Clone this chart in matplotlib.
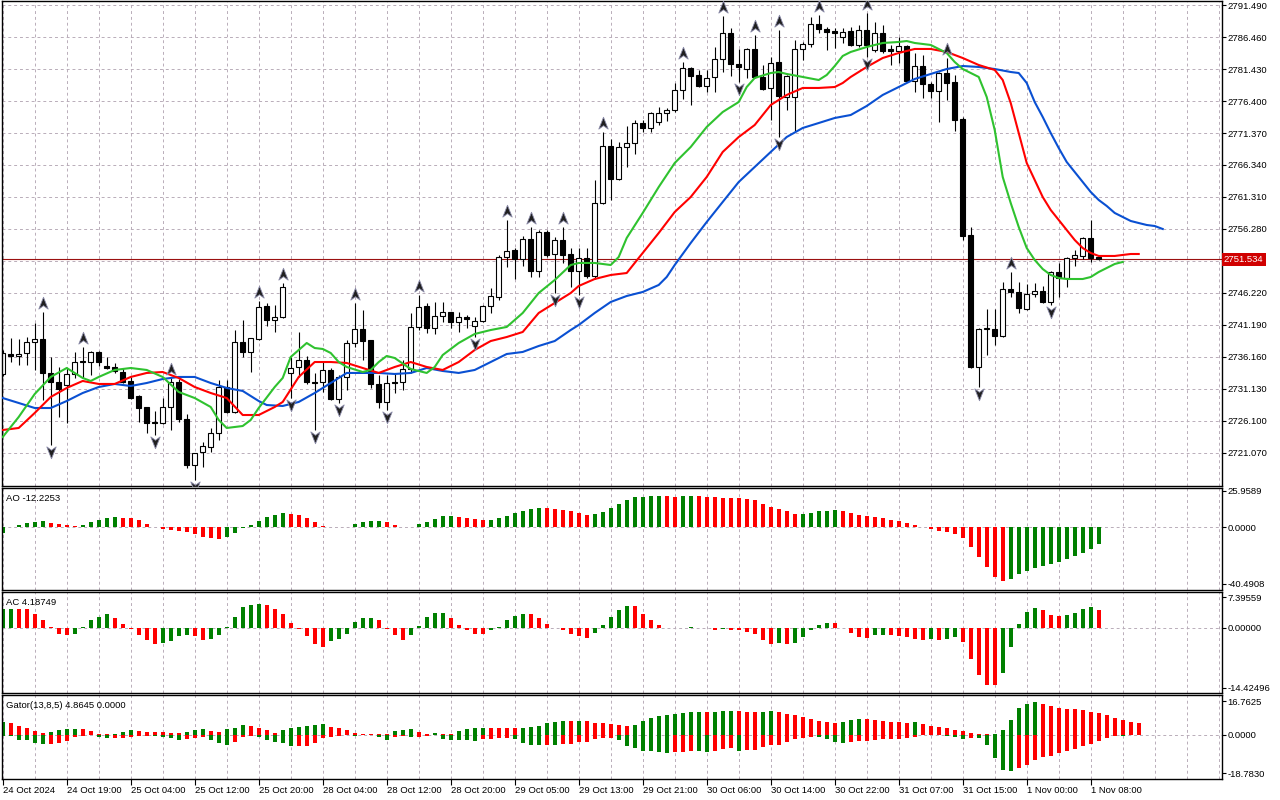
import matplotlib
matplotlib.use("Agg")
import matplotlib.pyplot as plt
import matplotlib.transforms as mtransforms
from matplotlib.path import Path

plt.rcParams['font.family'] = ['Liberation Sans', 'DejaVu Sans']

# ---- XAUUSD H1 candles, 24 Oct 2024 .. 1 Nov 2024 ----
open_ = [2733.5, 2736.6, 2736.3, 2736.8, 2738.5, 2739.0, 2733.6, 2732.2, 2731.8, 2733.5,
         2735.5, 2735.4, 2736.9, 2734.7, 2734.6, 2733.8, 2732.4, 2730.0, 2728.3, 2725.9,
         2725.8, 2728.3, 2732.2, 2726.4, 2719.2, 2721.2, 2722.0, 2724.2, 2731.4, 2727.5,
         2738.5, 2736.9, 2739.0, 2744.2, 2742.0, 2742.4, 2733.6, 2734.6, 2735.7, 2732.2,
         2732.2, 2734.1, 2729.6, 2733.0, 2738.4, 2740.6, 2738.8, 2731.9, 2729.1, 2732.2,
         2732.2, 2734.3, 2740.9, 2744.2, 2740.7, 2742.6, 2743.2, 2741.7, 2742.4, 2741.0,
         2741.8, 2744.2, 2745.6, 2751.9, 2753.0, 2751.6, 2754.7, 2749.7, 2755.8, 2752.4,
         2754.6, 2752.4, 2749.7, 2751.7, 2748.9, 2760.4, 2769.3, 2764.1, 2769.2, 2769.8,
         2772.9, 2772.2, 2773.1, 2774.5, 2775.0, 2778.1, 2781.6, 2780.5, 2778.8, 2780.2,
         2783.0, 2787.1, 2782.2, 2781.4, 2784.6, 2780.2, 2778.4, 2782.5, 2777.0, 2777.0,
         2784.6, 2785.4, 2788.5, 2787.7, 2787.4, 2786.5, 2787.4, 2785.2, 2787.6, 2784.4,
         2787.1, 2784.6, 2784.3, 2785.0, 2779.5, 2781.9, 2779.1, 2778.0, 2780.8, 2779.4,
         2773.6, 2755.3, 2734.6, 2740.6, 2740.6, 2739.5, 2746.9, 2746.4, 2743.7, 2746.1,
         2746.5, 2744.8, 2749.5, 2748.6, 2751.7, 2752.0, 2754.9, 2751.9]
high = [2737.3, 2739.1, 2739.0, 2739.3, 2741.5, 2743.2, 2736.2, 2734.6, 2734.4, 2736.9,
        2737.7, 2737.1, 2737.1, 2736.2, 2735.2, 2734.4, 2733.0, 2730.2, 2728.3, 2727.7,
        2729.7, 2732.9, 2732.7, 2727.2, 2721.1, 2722.8, 2725.0, 2732.5, 2732.5, 2740.4,
        2742.0, 2739.1, 2745.0, 2744.6, 2744.3, 2747.8, 2736.2, 2740.1, 2736.3, 2733.6,
        2735.4, 2734.4, 2733.3, 2738.8, 2744.6, 2743.6, 2738.8, 2733.3, 2733.3, 2733.6,
        2735.7, 2743.1, 2745.9, 2744.6, 2744.8, 2744.8, 2743.2, 2743.2, 2742.8, 2742.4,
        2744.3, 2747.0, 2752.2, 2757.7, 2753.3, 2755.2, 2756.6, 2756.1, 2756.1, 2755.0,
        2756.6, 2753.3, 2753.3, 2753.3, 2764.0, 2771.5, 2770.4, 2770.0, 2772.5, 2773.4,
        2773.4, 2774.7, 2775.5, 2775.3, 2779.2, 2782.5, 2781.7, 2781.3, 2781.3, 2784.9,
        2789.8, 2787.9, 2784.6, 2784.7, 2786.8, 2782.1, 2783.3, 2787.6, 2780.5, 2786.0,
        2785.7, 2789.6, 2789.9, 2788.0, 2787.9, 2787.9, 2788.0, 2788.4, 2790.2, 2788.8,
        2788.4, 2785.2, 2786.5, 2785.2, 2783.9, 2783.6, 2779.4, 2781.0, 2783.2, 2780.5,
        2773.9, 2756.6, 2740.7, 2743.7, 2743.7, 2748.0, 2749.5, 2748.0, 2747.6, 2747.8,
        2747.3, 2749.7, 2751.0, 2751.9, 2753.0, 2755.0, 2757.7, 2752.0]
low = [2733.2, 2735.4, 2734.9, 2734.9, 2734.1, 2729.4, 2722.3, 2726.7, 2725.8, 2732.9,
       2732.9, 2733.3, 2734.7, 2734.3, 2733.6, 2732.1, 2729.6, 2725.9, 2724.2, 2723.9,
       2725.6, 2724.7, 2725.9, 2718.7, 2716.8, 2718.9, 2721.2, 2723.1, 2727.4, 2727.4,
       2736.2, 2733.8, 2738.8, 2741.0, 2740.1, 2742.3, 2729.7, 2733.0, 2731.9, 2724.7,
       2730.7, 2729.4, 2728.9, 2731.0, 2737.7, 2735.7, 2731.3, 2728.1, 2727.8, 2730.5,
       2731.0, 2733.6, 2740.4, 2739.9, 2739.8, 2741.7, 2740.7, 2740.1, 2740.7, 2739.3,
       2741.7, 2743.1, 2745.1, 2750.3, 2748.4, 2750.5, 2748.7, 2748.7, 2751.9, 2746.2,
       2750.9, 2747.2, 2745.9, 2748.6, 2748.4, 2760.2, 2760.8, 2764.0, 2766.0, 2768.1,
       2771.5, 2771.5, 2772.6, 2773.3, 2774.7, 2776.7, 2775.8, 2778.6, 2777.8, 2777.8,
       2781.0, 2780.3, 2779.4, 2780.0, 2780.0, 2778.1, 2773.4, 2770.7, 2775.0, 2771.7,
       2782.9, 2784.9, 2787.1, 2784.4, 2784.7, 2785.5, 2785.0, 2784.9, 2783.3, 2784.1,
       2783.9, 2782.1, 2782.4, 2779.4, 2777.8, 2776.9, 2776.9, 2773.1, 2776.6, 2771.7,
       2754.6, 2734.4, 2731.4, 2736.5, 2738.0, 2739.3, 2745.6, 2743.1, 2743.5, 2745.6,
       2744.6, 2744.4, 2745.6, 2747.2, 2750.5, 2751.6, 2751.1, 2751.4]
close = [2736.8, 2736.3, 2736.6, 2738.5, 2739.0, 2733.6, 2732.2, 2731.1, 2733.5, 2735.4,
         2735.4, 2736.9, 2735.4, 2734.4, 2734.0, 2732.2, 2729.7, 2728.1, 2725.8, 2725.8,
         2728.3, 2732.2, 2726.4, 2719.2, 2721.1, 2722.2, 2724.2, 2731.4, 2727.5, 2738.5,
         2736.9, 2739.1, 2744.0, 2742.0, 2742.4, 2747.2, 2734.4, 2735.7, 2732.2, 2732.1,
         2734.1, 2729.6, 2733.0, 2738.4, 2740.6, 2738.7, 2731.9, 2729.1, 2732.1, 2732.1,
         2734.3, 2740.9, 2744.0, 2740.7, 2742.6, 2743.2, 2741.7, 2742.4, 2742.1, 2741.8,
         2744.2, 2745.7, 2751.9, 2752.8, 2751.6, 2754.7, 2749.7, 2755.8, 2752.2, 2754.6,
         2752.2, 2749.7, 2751.7, 2748.9, 2760.4, 2769.3, 2764.1, 2769.2, 2769.8, 2772.9,
         2772.2, 2774.5, 2774.5, 2775.0, 2778.1, 2781.6, 2780.3, 2778.8, 2780.0, 2783.0,
         2787.1, 2782.2, 2781.7, 2784.6, 2780.2, 2778.3, 2782.4, 2777.2, 2780.3, 2784.6,
         2785.4, 2788.5, 2787.7, 2787.2, 2787.1, 2787.2, 2785.2, 2787.6, 2785.2, 2787.1,
         2784.3, 2784.3, 2785.0, 2779.5, 2781.9, 2779.1, 2778.0, 2780.8, 2779.2, 2773.4,
         2755.2, 2734.6, 2740.6, 2740.7, 2739.5, 2746.9, 2746.4, 2743.9, 2746.1, 2746.5,
         2744.8, 2749.5, 2748.6, 2751.7, 2752.2, 2754.9, 2751.7, 2751.534]

# Williams fractals (bar indices)
fractal_up = [5, 10, 21, 32, 35, 44, 52, 63, 66, 70, 75, 85, 90, 94, 97, 102, 108, 118, 126]
fractal_dn = [6, 19, 24, 36, 39, 42, 48, 59, 69, 72, 92, 97, 108, 122, 131]

# Alligator lines (bar index, value), already shifted forward
jaw_x = [0, 2, 4, 6, 8, 10, 12, 14, 16, 18, 20, 22, 24, 26, 28, 30, 32, 33, 35, 37, 39, 41,
         43, 45, 47, 49, 51, 53, 55, 57, 59, 61, 63, 65, 67, 69, 71, 72, 74, 76, 78, 80, 82,
         83, 84, 86, 88, 90, 92, 94, 96, 98, 100, 102, 104, 106, 108, 110, 112, 114, 116, 118,
         120, 122, 124, 126, 127, 128, 129, 130, 131, 132, 133, 134, 135, 136, 137, 138, 139,
         140, 141, 142, 143, 144, 145]
jaw_y = [2729.71, 2728.93, 2728.14, 2728.14, 2729.24, 2730.50, 2731.44, 2731.92, 2731.60,
         2732.07, 2732.70, 2733.02, 2733.02, 2732.07, 2731.29, 2730.82, 2729.24, 2728.61,
         2728.46, 2729.09, 2730.50, 2732.07, 2733.65, 2733.65, 2733.65, 2733.49, 2733.65,
         2734.43, 2733.96, 2733.65, 2734.12, 2735.37, 2736.63, 2736.95, 2737.89, 2738.67,
         2740.40, 2741.19, 2743.08, 2744.81, 2745.75, 2746.38, 2747.48, 2748.74, 2750.62,
         2754.08, 2757.38, 2760.53, 2763.67, 2766.03, 2768.39, 2770.74, 2772.16, 2772.94,
         2773.73, 2774.20, 2775.62, 2777.35, 2778.60, 2779.86, 2780.65, 2781.43, 2781.90,
         2781.75, 2781.43, 2780.96, 2780.80, 2779.23, 2776.24, 2773.89, 2771.37, 2769.01,
         2766.81, 2765.24, 2763.67, 2762.10, 2760.84, 2759.90, 2758.80, 2758.17, 2757.54,
         2757.22, 2756.91, 2756.75, 2756.28]
teeth_x = [0, 2, 4, 6, 8, 10, 12, 14, 16, 18, 20, 22, 24, 26, 28, 30, 32, 34, 35, 37, 39, 41,
           43, 45, 47, 49, 51, 53, 55, 57, 59, 61, 63, 65, 67, 69, 71, 72, 74, 76, 78, 79, 80,
           82, 84, 86, 88, 90, 92, 94, 96, 98, 100, 102, 104, 105, 106, 108, 110, 112, 114,
           116, 118, 120, 122, 124, 125, 126, 127, 128, 129, 130, 131, 132, 133, 134, 135,
           136, 137, 138, 139, 140, 141, 142]
teeth_y = [2724.68, 2725.00, 2727.36, 2729.87, 2731.29, 2732.39, 2731.92, 2731.92, 2733.02,
           2733.65, 2733.80, 2732.86, 2731.44, 2730.50, 2729.71, 2727.04, 2727.04, 2728.30,
           2729.09, 2733.02, 2735.37, 2735.37, 2735.22, 2734.43, 2733.65, 2734.59, 2735.37,
           2734.59, 2734.12, 2735.37, 2737.26, 2738.67, 2739.30, 2740.09, 2743.08, 2744.65,
           2746.22, 2747.32, 2748.42, 2749.05, 2749.36, 2750.94, 2752.51, 2755.65, 2758.95,
           2761.31, 2764.46, 2768.39, 2770.74, 2772.63, 2775.77, 2777.35, 2778.45, 2778.45,
           2778.60, 2779.23, 2780.18, 2781.75, 2783.16, 2783.95, 2784.58, 2784.58, 2784.11,
           2783.16, 2782.06, 2781.28, 2779.70, 2776.09, 2771.37, 2766.66, 2763.98, 2761.31,
           2759.27, 2757.70, 2756.12, 2754.55, 2753.29, 2752.51, 2752.04, 2752.04, 2752.04,
           2752.20, 2752.35, 2752.35]
lips_x = [0, 2, 4, 6, 8, 10, 11, 12, 14, 16, 18, 20, 22, 24, 26, 27, 28, 30, 31, 32, 34, 35,
          36, 38, 39, 40, 41, 42, 43, 45, 46, 47, 48, 49, 51, 53, 54, 55, 57, 59, 61, 63, 65,
          67, 69, 71, 72, 74, 76, 77, 78, 80, 82, 84, 86, 88, 90, 92, 93, 94, 96, 97, 98, 100,
          102, 103, 104, 105, 106, 108, 110, 112, 113, 114, 116, 118, 119, 120, 122, 123, 124,
          125, 126, 127, 128, 129, 130, 131, 132, 133, 134, 135, 136, 137, 138, 139, 140]
lips_y = [2723.58, 2726.73, 2730.34, 2733.02, 2734.43, 2732.86, 2732.39, 2733.02, 2734.12,
          2734.43, 2734.12, 2733.02, 2730.66, 2729.71, 2728.30, 2726.26, 2725.00, 2725.31,
          2726.26, 2728.14, 2731.44, 2732.86, 2736.16, 2738.36, 2737.57, 2737.42, 2736.79,
          2735.37, 2734.59, 2733.80, 2734.12, 2735.37, 2736.32, 2736.00, 2734.27, 2733.65,
          2734.59, 2736.47, 2738.36, 2739.78, 2740.40, 2740.88, 2743.08, 2746.22, 2748.26,
          2750.62, 2750.94, 2750.94, 2750.62, 2751.88, 2754.87, 2758.80, 2762.88, 2766.66,
          2769.17, 2772.32, 2774.67, 2776.24, 2778.60, 2780.02, 2780.80, 2780.96, 2780.65,
          2780.18, 2779.70, 2780.49, 2781.90, 2783.48, 2784.11, 2784.89, 2785.52, 2785.68,
          2785.83, 2785.52, 2785.21, 2783.95, 2782.53, 2781.43, 2780.18, 2777.03, 2771.84,
          2764.46, 2760.37, 2756.60, 2753.29, 2751.41, 2749.99, 2749.05, 2748.58, 2748.42,
          2748.42, 2748.42, 2748.73, 2749.52, 2750.15, 2750.78, 2751.10]

# Awesome Oscillator
ao = [-3.8, 0.3, 1.4, 2.9, 3.6, 4.3, 2.9, 2.1, 1.4, 0.7, 1.4, 3.6, 5.0, 6.4, 7.1, 7.0, 6.4,
      5.0, 2.4, 0.1, -1.2, -1.9, -2.6, -3.6, -4.8, -6.9, -7.6, -8.3, -6.9, -4.0, -0.5, 1.4,
      4.3, 7.1, 8.6, 10.0, 9.3, 8.6, 6.4, 3.6, 0.7, 0.5, 0.2, 0.3, 2.1, 3.6, 4.3, 4.4, 3.6,
      1.4, 0.4, 0.2, 2.1, 4.0, 5.7, 7.9, 8.0, 7.1, 6.4, 5.7, 5.2, 5.3, 6.4, 7.9, 10.2, 11.4,
      13.1, 13.6, 13.5, 12.9, 12.1, 11.4, 10.2, 8.6, 9.5, 10.7, 13.6, 16.7, 19.3, 21.4, 21.5,
      22.1, 22.2, 22.1, 22.0, 22.1, 22.2, 22.1, 22.0, 21.4, 21.3, 21.2, 20.7, 20.0, 19.3,
      16.4, 14.3, 12.9, 11.4, 9.3, 9.5, 10.0, 11.4, 11.5, 12.1, 11.4, 10.0, 8.6, 7.9, 7.1,
      6.4, 5.0, 4.3, 2.9, 1.4, 0.1, -1.2, -2.9, -3.3, -4.8, -7.6, -14.0, -21.2, -28.3,
      -35.4, -38.3, -36.9, -33.3, -31.2, -29.0, -27.6, -26.2, -24.8, -22.6, -20.5, -18.3,
      -15.5, -12.2253]

# Accelerator Oscillator
ac = [4.4, 4.6, 4.5, 4.4, 3.2, 2.0, 0.1, -1.4, -1.6, -1.4, 0.1, 1.8, 2.6, 3.2, 2.4, 1.0,
      -0.2, -1.6, -3.0, -3.8, -3.7, -3.2, -2.0, -1.8, -1.85, -2.8, -2.6, -1.8, 0.1, 2.6, 5.0,
      5.4, 5.8, 5.4, 4.6, 3.3, 1.2, -0.2, -2.0, -3.8, -4.7, -3.2, -2.7, -1.4, 1.4, 2.4, 2.45,
      1.8, -0.2, -1.8, -2.8, -1.8, 0.5, 2.5, 3.6, 3.65, 2.4, 0.7, -0.6, -1.4, -1.5, -0.6,
      0.2, 1.9, 2.9, 3.4, 3.3, 2.4, 1.0, -0.1, -0.6, -1.4, -1.9, -2.4, -1.2, 0.7, 2.6, 4.3,
      5.3, 5.2, 3.4, 1.9, 0.7, -0.05, -0.1, 0.05, 0.1, 0.0, -0.05, -0.4, -0.3, -0.4, -0.6,
      -1.0, -1.4, -2.8, -3.8, -3.6, -3.8, -3.6, -2.1, -0.5, 0.7, 1.2, 1.15, 0.0, -1.2, -2.3,
      -2.35, -1.8, -1.7, -1.8, -1.9, -2.1, -2.6, -2.8, -2.75, -3.0, -2.6, -2.1, -3.5, -7.4,
      -11.2, -13.6, -13.8, -10.9, -4.7, 1.0, 3.8, 4.8, 4.3, 3.1, 2.9, 3.1, 3.6, 4.6, 5.0,
      4.18749]

# Gator oscillator: upper |jaw-teeth|, lower -|teeth-lips|
gator_up = [6.4, 5.9, 4.6, 3.3, 1.8, 1.0, 1.3, 2.3, 2.8, 2.9, 2.8, 1.8, 0.7, 0.6, 0.7, 1.6,
            2.3, 1.8, 1.6, 1.5, 1.3, 1.0, 0.8, 1.6, 2.6, 2.7, 2.1, 1.3, 3.0, 3.6, 4.9, 4.6,
            3.3, 2.3, 1.0, 2.3, 3.3, 4.0, 4.6, 4.9, 5.6, 4.0, 3.5, 2.3, 1.0, 0.7, 0.6, 0.5,
            0.4, 1.8, 2.6, 2.7, 1.6, 0.3, 1.2, 0.7, 0.6, 2.1, 3.1, 3.6, 3.65, 3.6, 3.55, 3.5,
            3.45, 3.6, 3.7, 4.6, 5.9, 6.6, 7.1, 7.05, 7.1, 7.05, 6.1, 6.05, 5.6, 5.1, 4.6, 5.1,
            7.1, 8.6, 9.5, 10.0, 10.5, 11.0, 11.5, 11.55, 11.5, 11.55, 12.0, 12.05, 12.0,
            11.5, 11.45, 11.5, 12.0, 11.5, 10.5, 10.0, 9.1, 8.1, 7.1, 6.6, 6.1, 6.6, 7.6, 8.1,
            8.0, 7.6, 7.1, 6.6, 6.5, 6.1, 6.15, 5.6, 4.6, 4.1, 3.6, 2.6, 2.1, 1.2, 0.7, 0.6,
            0.7, 2.6, 7.6, 13.2, 15.5, 16.5, 15.5, 14.5, 13.5, 13.0, 12.95, 12.5, 11.5, 11.0,
            10.0, 8.6, 7.6, 6.6, 6.1]
gator_dn = [-0.5, -0.6, -2.3, -2.6, -3.8, -4.3, -4.3, -4.0, -3.1, -1.2, -0.3, -0.2, -0.8,
            -1.6, -1.5, -1.3, -1.2, -0.7, -0.6, -0.7, -0.8, -1.6, -2.6, -2.1, -1.5, -1.2,
            -2.3, -4.0, -4.8, -3.3, -1.2, -0.7, -0.8, -2.6, -3.6, -4.0, -5.6, -5.5, -5.4,
            -4.0, -1.6, -1.2, -0.3, -0.1, -0.3, -0.2, -0.1, -1.2, -2.3, -1.2, -0.7, -1.2,
            -1.0, -0.7, -0.1, -2.1, -2.6, -2.65, -2.7, -2.75, -2.1, -2.0, -1.6, -1.55, -2.1,
            -3.8, -5.1, -5.15, -5.1, -5.15, -4.6, -4.5, -3.6, -3.3, -2.1, -1.6, -1.55, -2.6,
            -5.6, -6.3, -7.7, -7.75, -8.2, -8.7, -8.65, -8.2, -7.7, -7.8, -8.2, -8.1, -6.7,
            -6.6, -7.7, -7.6, -7.5, -6.1, -5.1, -5.0, -3.6, -2.1, -1.6, -1.2, -1.25, -2.1,
            -3.6, -4.1, -3.6, -3.1, -3.0, -2.6, -2.1, -2.05, -2.0, -1.6, -1.2, -0.1, -0.05,
            -0.03, -0.7, -1.2, -2.1, -1.6, -1.65, -5.1, -11.5, -17.4, -17.9, -16.5, -15.0,
            -12.5, -11.0, -10.5, -9.1, -8.1, -7.1, -5.6, -4.6, -3.1, -1.6, -0.7, -0.75]

# time axis labels (bar index -> text)
time_idx = [0, 8, 16, 24, 32, 40, 48, 56, 64, 72, 80, 88, 96, 104, 112, 120, 128, 136]
time_lbl = ['24 Oct 2024', '24 Oct 19:00', '25 Oct 04:00', '25 Oct 12:00', '25 Oct 20:00',
            '28 Oct 04:00', '28 Oct 12:00', '28 Oct 20:00', '29 Oct 05:00', '29 Oct 13:00',
            '29 Oct 21:00', '30 Oct 06:00', '30 Oct 14:00', '30 Oct 22:00', '31 Oct 07:00',
            '31 Oct 15:00', '1 Nov 00:00', '1 Nov 08:00']

price_ticks = [2791.49, 2786.46, 2781.43, 2776.40, 2771.37, 2766.34, 2761.31, 2756.28,
               2751.25, 2746.22, 2741.19, 2736.16, 2731.13, 2726.10, 2721.07]
ao_ticks = [25.9589, 0.0, -40.4908]
ac_ticks = [7.39559, 0.0, -14.42496]
gator_ticks = [16.7625, 0.0, -18.7830]

GREEN = '#008000'
RED = '#ff0000'
GRID = '#b9adb9'
FS = 6.8

W, H = 1280, 800
fig = plt.figure(figsize=(W / 100, H / 100), dpi=100)
fig.patch.set_facecolor('white')

def rect(top, bottom):
    return [2 / W, 1 - bottom / H, 1220 / W, (bottom - top) / H]

ax = fig.add_axes(rect(1, 486))
ax_ao = fig.add_axes(rect(488, 590))
ax_ac = fig.add_axes(rect(592, 693))
ax_gt = fig.add_axes(rect(695, 779))

xmin, xmax = -0.0875, 152.41
for a in (ax, ax_ao, ax_ac, ax_gt):
    a.set_xlim(xmin, xmax)
    for s in a.spines.values():
        s.set_color('black')
        s.set_linewidth(1.0)
    a.yaxis.tick_right()
    a.tick_params(axis='y', direction='out', length=3, width=0.8, labelsize=FS, pad=1)
    a.tick_params(axis='x', length=0, labelbottom=False)
    for k in range(0, 39):
        a.axvline(4 * k, color=GRID, lw=0.7, ls=(0, (3, 3)), zorder=0)

n = len(close)
idx = list(range(n))

# ---- main price chart ----
ax.set_ylim(2715.88, 2792.12)
ax.set_yticks(price_ticks)
ax.set_yticklabels(['' if abs(t - 2751.25) < 1e-6 else f'{t:.3f}' for t in price_ticks])
for t in price_ticks:
    ax.axhline(t, color=GRID, lw=0.7, ls=(0, (3, 3)), zorder=0)

ax.vlines(idx, low, high, color='black', lw=0.8, zorder=2)
bull = [c >= o for o, c in zip(open_, close)]
body_lo = [min(o, c) for o, c in zip(open_, close)]
body_h = [max(abs(c - o), 0.08) for o, c in zip(open_, close)]
ax.bar(idx, body_h, bottom=body_lo, width=0.62,
       color=['white' if b else 'black' for b in bull], edgecolor='black', lw=0.8, zorder=2)

ax.plot(jaw_x, jaw_y, color='#0a50d2', lw=1.5, zorder=3)
ax.plot(teeth_x, teeth_y, color='#ff0000', lw=1.5, zorder=3)
ax.plot(lips_x, lips_y, color='#2fc22f', lw=1.5, zorder=3)

up_path = Path([(0, 1), (0.75, -0.9), (0, -0.35), (-0.75, -0.9), (0, 1)],
               [Path.MOVETO, Path.LINETO, Path.LINETO, Path.LINETO, Path.CLOSEPOLY])
dn_path = Path([(0, -1), (0.75, 0.9), (0, 0.35), (-0.75, 0.9), (0, -1)],
               [Path.MOVETO, Path.LINETO, Path.LINETO, Path.LINETO, Path.CLOSEPOLY])
ax.plot(fractal_up, [high[i] + 1.4 for i in fractal_up], ls='none', marker=up_path,
        ms=9, mfc='#202020', mec='#8a8aa8', mew=0.6, zorder=4)
ax.plot(fractal_dn, [low[i] - 1.1 for i in fractal_dn], ls='none', marker=dn_path,
        ms=9, mfc='#202020', mec='#8a8aa8', mew=0.6, zorder=4)

last = close[-1]
ax.axhline(last, color='#9b1010', lw=0.8, zorder=1)
tr = mtransforms.blended_transform_factory(ax.transAxes, ax.transData)
ax.text(1.0016, last, f'{last:.3f}', transform=tr, ha='left', va='center', fontsize=FS,
        color='white', bbox=dict(facecolor='#d00000', edgecolor='none', pad=1.4), clip_on=False)

# ---- AO ----
ao_col = [GREEN if i == 0 or ao[i] > ao[i - 1] else RED for i in range(len(ao))]
ax_ao.bar(range(len(ao)), ao, width=0.5, color=ao_col, zorder=2)
ax_ao.set_ylim(-44.78, 28.10)
ax_ao.set_yticks(ao_ticks)
ax_ao.set_yticklabels(['25.9589', '0.0000', '-40.4908'])
ax_ao.axhline(0, color=GRID, lw=0.7, ls=(0, (3, 3)), zorder=1)
ax_ao.text(0.003, 0.94, 'AO -12.2253', transform=ax_ao.transAxes, fontsize=FS, va='top')

# ---- AC ----
ac_col = [GREEN if i == 0 or ac[i] > ac[i - 1] else RED for i in range(len(ac))]
ax_ac.bar(range(len(ac)), ac, width=0.5, color=ac_col, zorder=2)
ax_ac.set_ylim(-15.624, 8.595)
ax_ac.set_yticks(ac_ticks)
ax_ac.set_yticklabels(['7.39559', '0.00000', '-14.42496'])
ax_ac.axhline(0, color=GRID, lw=0.7, ls=(0, (3, 3)), zorder=1)
ax_ac.text(0.003, 0.94, 'AC 4.18749', transform=ax_ac.transAxes, fontsize=FS, va='top')

# ---- Gator ----
gu_col = [GREEN if i == 0 or gator_up[i] > gator_up[i - 1] else RED for i in range(len(gator_up))]
gd_col = [GREEN if i == 0 or abs(gator_dn[i]) > abs(gator_dn[i - 1]) else RED
          for i in range(len(gator_dn))]
ax_gt.bar(range(len(gator_up)), gator_up, width=0.5, color=gu_col, zorder=2)
ax_gt.bar(range(len(gator_dn)), gator_dn, width=0.5, color=gd_col, zorder=2)
ax_gt.set_ylim(-21.745, 19.725)
ax_gt.set_yticks(gator_ticks)
ax_gt.set_yticklabels(['16.7625', '0.0000', '-18.7830'])
ax_gt.axhline(0, color=GRID, lw=0.7, ls=(0, (3, 3)), zorder=1)
ax_gt.text(0.003, 0.93, 'Gator(13,8,5) 4.8645 0.0000', transform=ax_gt.transAxes,
           fontsize=FS, va='top')

ax_gt.set_xticks(time_idx)
ax_gt.set_xticklabels(time_lbl, ha='left')
ax_gt.tick_params(axis='x', direction='out', length=4, width=0.8, labelbottom=True,
                  labelsize=FS, pad=1)
for lbl in ax_gt.get_xticklabels():
    lbl.set_horizontalalignment('left')

fig.savefig('out.png', dpi=100, facecolor='white')
